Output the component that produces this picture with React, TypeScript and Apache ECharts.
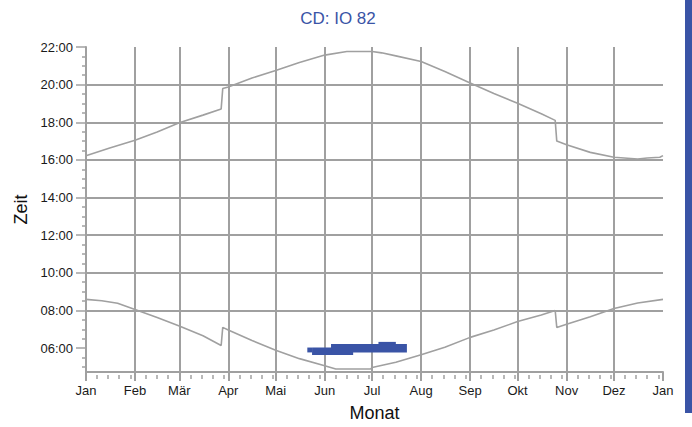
import React, { useEffect, useRef } from "react";
import * as echarts from "echarts";

// Month starts (day of year) and labels
const monthStarts = [0, 31, 59, 90, 120, 151, 181, 212, 243, 273, 304, 334, 365];
const monthLabels = ["Jan", "Feb", "Mär", "Apr", "Mai", "Jun", "Jul", "Aug", "Sep", "Okt", "Nov", "Dez", "Jan"];

// Hour tick labels
const hourTicks = [6, 8, 10, 12, 14, 16, 18, 20, 22];
const hourLabels = ["06:00", "08:00", "10:00", "12:00", "14:00", "16:00", "18:00", "20:00", "22:00"];

// Sunset (upper curve): day of year, hours
const sunsetDays = [0, 15, 31, 45, 59, 74, 85.5, 86.5, 90, 105, 120, 135, 151, 165, 181, 187, 196, 212, 227, 243, 258, 273, 288, 296.8, 297.8, 304, 319, 334, 349, 355, 363, 365];
const sunsetHours = [16.22, 16.63, 17.04, 17.48, 17.97, 18.38, 18.71, 19.79, 19.88, 20.35, 20.75, 21.18, 21.57, 21.76, 21.76, 21.69, 21.53, 21.23, 20.7, 20.09, 19.53, 19.01, 18.45, 18.1, 17.0, 16.8, 16.4, 16.14, 16.05, 16.1, 16.14, 16.23];

// Sunrise (lower curve)
const sunriseDays = [0, 10, 20, 31, 45, 59, 74, 85.5, 86.5, 90, 105, 120, 135, 151, 158, 180, 181, 196, 212, 227, 243, 258, 273, 288, 296.8, 297.8, 304, 319, 334, 349, 365];
const sunriseHours = [8.59, 8.52, 8.38, 8.05, 7.62, 7.18, 6.66, 6.14, 7.1, 6.96, 6.4, 5.88, 5.44, 5.06, 4.89, 4.89, 4.97, 5.25, 5.65, 6.05, 6.57, 6.96, 7.41, 7.76, 8.0, 7.1, 7.27, 7.67, 8.1, 8.4, 8.59];

// Observation band blocks: [startDay, endDay, lowHour, highHour]
const bandStart = [140, 143, 155, 185];
const bandEnd = [143, 169, 203, 196];
const bandLow = [5.77, 5.63, 5.76, 6.18];
const bandHigh = [6.03, 6.03, 6.22, 6.33];

const GRAY = "#a0a0a0";
const BLUE = "#3a54a6";
const FONT = "Liberation Sans, Arial, sans-serif";

export default function App() {
  const ref = useRef<HTMLDivElement>(null);

  useEffect(() => {
    if (!ref.current) return;
    const chart = echarts.init(ref.current, null, { renderer: "svg" });

    const weekTicks: number[] = [];
    for (let i = 0; i < monthStarts.length - 1; i++) {
      for (let w = 7; monthStarts[i] + w < monthStarts[i + 1]; w += 7) {
        weekTicks.push(monthStarts[i] + w);
      }
    }
    const halfHourTicks: number[] = [];
    for (let h = 5; h < 22; h += 0.5) {
      if (!(Number.isInteger(h) && h % 2 === 0)) halfHourTicks.push(h);
    }

    const sunset = sunsetDays.map((d, i) => [d, sunsetHours[i]]);
    const sunrise = sunriseDays.map((d, i) => [d, sunriseHours[i]]);
    const band = bandStart.map((d, i) => [d, bandEnd[i], bandLow[i], bandHigh[i]]);

    const YMIN = 4.73;
    const YMAX = 22;

    chart.setOption({
      animation: false,
      backgroundColor: "#ffffff",
      textStyle: { fontFamily: FONT },
      grid: { left: 86, right: 29, top: 47, bottom: 53, containLabel: false },
      graphic: [
        {
          type: "text",
          x: 338,
          y: 18,
          style: {
            text: "CD: IO 82",
            fill: BLUE,
            font: `17px ${FONT}`,
            textAlign: "center",
            textVerticalAlign: "middle",
          },
        },
        {
          type: "rect",
          shape: { x: 685, y: 0, width: 7, height: 413 },
          style: { fill: BLUE },
        },
      ],
      xAxis: [
        {
          type: "value",
          min: 0,
          max: 365,
          position: "bottom",
          name: "Monat",
          nameLocation: "middle",
          nameGap: 32,
          nameTextStyle: { color: "#111", fontSize: 18, fontFamily: FONT },
          axisLine: { show: true, lineStyle: { color: GRAY, width: 2 } },
          axisTick: {
            show: true,
            customValues: monthStarts,
            length: 9,
            lineStyle: { color: GRAY, width: 2 },
          },
          axisLabel: {
            customValues: monthStarts,
            margin: 12,
            color: "#1a1a1a",
            fontSize: 13,
            fontFamily: FONT,
            formatter: (v: number) => {
              const i = monthStarts.indexOf(v);
              return i >= 0 ? monthLabels[i] : "";
            },
          },
          splitLine: {
            show: true,
            showMinLine: false,
            showMaxLine: false,
            lineStyle: { color: GRAY, width: 2 },
          },
        },
        {
          type: "value",
          min: 0,
          max: 365,
          position: "bottom",
          offset: 3,
          axisLine: { show: false },
          axisTick: {
            show: true,
            customValues: weekTicks,
            length: 4,
            lineStyle: { color: GRAY, width: 1.5 },
          },
          axisLabel: { show: false },
          splitLine: { show: false },
        },
      ],
      yAxis: [
        {
          type: "value",
          min: YMIN,
          max: YMAX,
          position: "left",
          name: "Zeit",
          nameLocation: "middle",
          nameGap: 49,
          nameTextStyle: { color: "#111", fontSize: 18, fontFamily: FONT },
          axisLine: { show: true, lineStyle: { color: GRAY, width: 2 } },
          axisTick: {
            show: true,
            customValues: hourTicks,
            length: 10,
            lineStyle: { color: GRAY, width: 1.5 },
          },
          axisLabel: {
            customValues: hourTicks,
            margin: 13,
            color: "#1a1a1a",
            fontSize: 13,
            fontFamily: FONT,
            formatter: (v: number) => {
              const i = hourTicks.indexOf(v);
              return i >= 0 ? hourLabels[i] : "";
            },
          },
          splitLine: {
            show: true,
            showMinLine: false,
            showMaxLine: false,
            lineStyle: { color: GRAY, width: 2 },
          },
        },
        {
          type: "value",
          min: YMIN,
          max: YMAX,
          position: "left",
          offset: 2,
          axisLine: { show: false },
          axisTick: {
            show: true,
            customValues: halfHourTicks,
            length: 4,
            lineStyle: { color: GRAY, width: 1.5 },
          },
          axisLabel: { show: false },
          splitLine: { show: false },
        },
      ],
      series: [
        {
          type: "line",
          name: "Sonnenuntergang",
          xAxisIndex: 0,
          yAxisIndex: 0,
          data: sunset,
          showSymbol: false,
          symbol: "none",
          lineStyle: { color: GRAY, width: 1.6 },
        },
        {
          type: "line",
          name: "Sonnenaufgang",
          xAxisIndex: 0,
          yAxisIndex: 0,
          data: sunrise,
          showSymbol: false,
          symbol: "none",
          lineStyle: { color: GRAY, width: 1.6 },
        },
        {
          type: "custom",
          name: "Beobachtung",
          xAxisIndex: 0,
          yAxisIndex: 0,
          data: band,
          encode: { x: [0, 1], y: [2, 3] },
          renderItem: (params: any, api: any) => {
            const p0 = api.coord([api.value(0), api.value(3)]);
            const p1 = api.coord([api.value(1), api.value(2)]);
            return {
              type: "rect",
              shape: { x: p0[0], y: p0[1], width: p1[0] - p0[0], height: p1[1] - p0[1] },
              style: { fill: BLUE },
            };
          },
        },
      ],
    });

    return () => chart.dispose();
  }, []);

  return (
    <div
      ref={ref}
      style={{ position: "fixed", left: 0, top: 0, width: 692, height: 427, background: "#fff" }}
    />
  );
}
